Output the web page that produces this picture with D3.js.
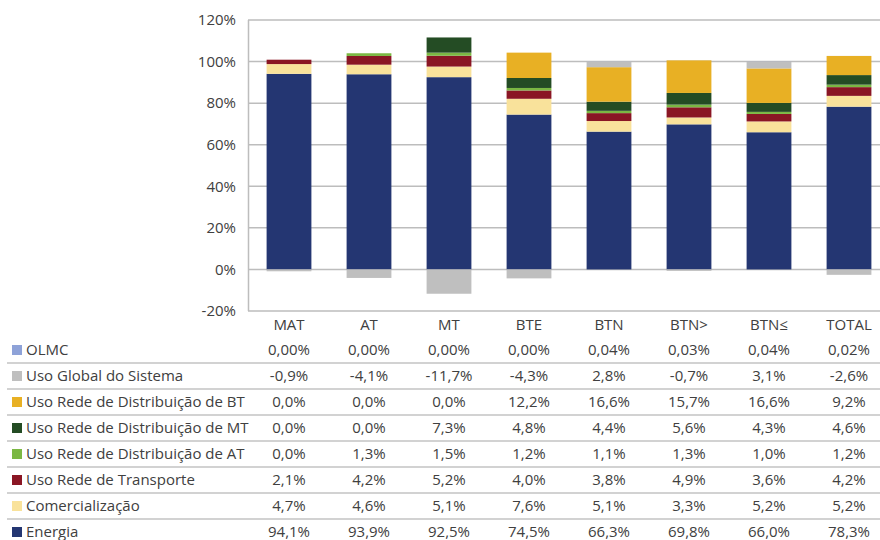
<!DOCTYPE html>
<html><head><meta charset="utf-8">
<script src="https://cdn.jsdelivr.net/npm/d3@7"></script>
<style>body{margin:0;background:#fff}svg{display:block;font-family:"Open Sans",sans-serif}</style>
</head><body><svg id="c" width="880" height="540"></svg>
<script>
const categories = ["MAT","AT","MT","BTE","BTN","BTN>","BTN≤","TOTAL"];
const seriesNames = ["OLMC","Uso Global do Sistema","Uso Rede de Distribuição de BT","Uso Rede de Distribuição de MT","Uso Rede de Distribuição de AT","Uso Rede de Transporte","Comercialização","Energia"];
const olmc        = [0.00, 0.00, 0.00, 0.00, 0.04, 0.03, 0.04, 0.02];
const usoGlobal   = [-0.9, -4.1, -11.7, -4.3, 2.8, -0.7, 3.1, -2.6];
const redeBT      = [0.0, 0.0, 0.0, 12.2, 16.6, 15.7, 16.6, 9.2];
const redeMT      = [0.0, 0.0, 7.3, 4.8, 4.4, 5.6, 4.3, 4.6];
const redeAT      = [0.0, 1.3, 1.5, 1.2, 1.1, 1.3, 1.0, 1.2];
const transporte  = [2.1, 4.2, 5.2, 4.0, 3.8, 4.9, 3.6, 4.2];
const comerc      = [4.7, 4.6, 5.1, 7.6, 5.1, 3.3, 5.2, 5.2];
const energia     = [94.1, 93.9, 92.5, 74.5, 66.3, 69.8, 66.0, 78.3];
const yTicks = [-20, 0, 20, 40, 60, 80, 100, 120];
const colors = ["#8ea2d8","#bfbfbf","#e8b024","#244c24","#7bb843","#8a1624","#f9e29b","#243672"];

const values = [olmc, usoGlobal, redeBT, redeMT, redeAT, transporte, comerc, energia];
const svg = d3.select("#c");
const x = d3.scaleBand().domain(categories).range([249, 889]).paddingInner(0.44).paddingOuter(0.22);
const y = d3.scaleLinear().domain([-20, 120]).range([311, 20]);

// grid
svg.append("g").selectAll("line").data(yTicks).join("line")
  .attr("x1", 248).attr("x2", 880).attr("y1", d => y(d)).attr("y2", d => y(d))
  .attr("stroke", "#bdbdbd").attr("stroke-width", 1.5);
svg.append("line").attr("x1", 248.5).attr("x2", 248.5).attr("y1", y(120)).attr("y2", y(-20))
  .attr("stroke", "#bdbdbd").attr("stroke-width", 1.5);

// stack: bottom to top is reverse of seriesNames
const keys = seriesNames.slice().reverse();
const rows = categories.map((c, i) => {
  const o = {cat: c};
  seriesNames.forEach((s, j) => o[s] = values[j][i]);
  return o;
});
const stack = d3.stack().keys(keys).offset(d3.stackOffsetDiverging)(rows);
const colorOf = d3.scaleOrdinal().domain(seriesNames).range(colors);
svg.append("g").selectAll("g").data(stack).join("g").attr("fill", d => colorOf(d.key))
  .selectAll("rect").data(d => d).join("rect")
  .attr("x", d => x(d.data.cat)).attr("width", x.bandwidth())
  .attr("y", d => y(Math.max(d[0], d[1]))).attr("height", d => Math.abs(y(d[0]) - y(d[1])));

// y axis labels
svg.append("g").selectAll("text").data(yTicks).join("text")
  .attr("x", 236).attr("y", d => y(d)).attr("dy", "0.35em").attr("text-anchor", "end")
  .attr("font-size", 15).attr("fill", "#404040").text(d => d + "%");
// x labels
svg.append("g").selectAll("text").data(categories).join("text")
  .attr("x", d => x(d) + x.bandwidth() / 2).attr("y", 325).attr("dy", "0.35em").attr("text-anchor", "middle")
  .attr("font-size", 15).attr("fill", "#404040").text(d => d);

// table
const loc = d3.formatLocale({decimal: ",", thousands: ".", grouping: [3], currency: ["", "€"], minus: "-"});
const f1 = loc.format(".1f"), f2 = loc.format(".2f");
const rowY = i => 350 + i * 26;
const tbl = svg.append("g");
tbl.selectAll("line").data(d3.range(1, seriesNames.length)).join("line")
  .attr("x1", 7).attr("x2", 880).attr("y1", i => rowY(i) - 13).attr("y2", i => rowY(i) - 13)
  .attr("stroke", "#a6a6a6").attr("stroke-width", 1.2);
seriesNames.forEach((s, j) => {
  const g = tbl.append("g");
  g.append("rect").attr("x", 12).attr("y", rowY(j) - 5).attr("width", 10).attr("height", 10).attr("fill", colors[j]);
  g.append("text").attr("x", 26).attr("y", rowY(j)).attr("dy", "0.35em").attr("font-size", 15).attr("fill", "#404040").text(s);
  g.selectAll("text.v").data(values[j]).join("text").attr("class", "v")
    .attr("x", (d, i) => x(categories[i]) + x.bandwidth() / 2).attr("y", rowY(j)).attr("dy", "0.35em")
    .attr("text-anchor", "middle").attr("font-size", 15).attr("fill", "#404040")
    .text(d => (j === 0 ? f2(d) : f1(d)) + "%");
});
</script></body></html>
